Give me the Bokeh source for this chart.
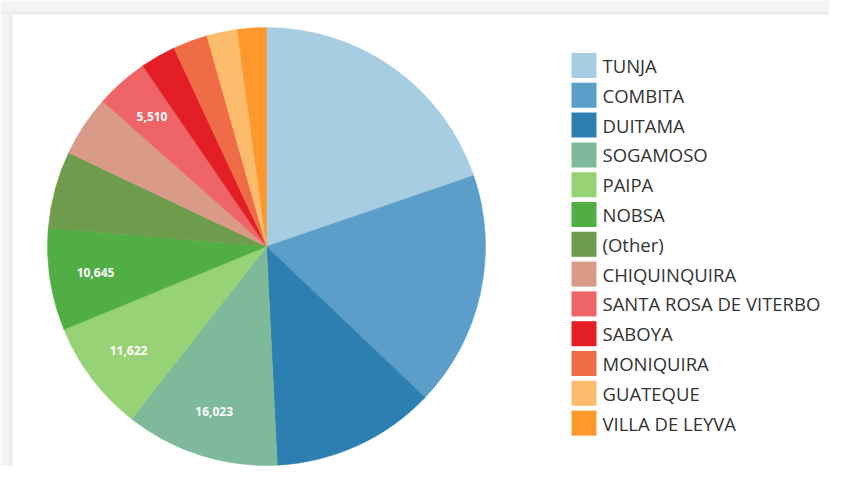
import numpy as np
import pandas as pd
from bokeh.plotting import figure
from bokeh.models import ColumnDataSource, Range1d, BoxAnnotation
from bokeh.core.properties import value
from bokeh.embed import file_html
from bokeh.resources import INLINE

# ---- data ----
categories = ["TUNJA", "COMBITA", "DUITAMA", "SOGAMOSO", "PAIPA", "NOBSA", "(Other)",
              "CHIQUINQUIRA", "SANTA ROSA DE VITERBO", "SABOYA", "MONIQUIRA",
              "GUATEQUE", "VILLA DE LEYVA"]
counts = [27870, 24500, 17090, 16023, 11622, 10645, 8036, 6350, 5510, 3685, 3606, 3175, 3018]
colors = ["#a6cde2", "#5a9ec9", "#2c7fb0", "#7eb99a", "#98d277", "#50ae45", "#6e9c4c",
          "#d99a88", "#ef6467", "#e31f25", "#ef6c47", "#fdbc6c", "#fe982c"]
show_value = [False, False, False, True, True, True, False, False, True, False, False, False, False]

# ---- layout (data units = page pixels, y measured upward from 482) ----
W, H = 829, 466
CX, CY, R = 266, 482 - 246, 219

df = pd.DataFrame({"cat": categories, "count": counts, "color": colors})
total = df["count"].sum()
cum_after = df["count"].cumsum() / total
cum_before = cum_after - df["count"] / total
df["start"] = np.pi / 2 - 2 * np.pi * cum_before
df["end"] = np.pi / 2 - 2 * np.pi * cum_after
mid = (df["start"] + df["end"]) / 2
df["lx"] = CX + 0.79 * R * np.cos(mid)
df["ly"] = CY + 0.79 * R * np.sin(mid)
df["label"] = [f"{c:,}" if s else "" for c, s in zip(counts, show_value)]
idx = np.arange(len(categories))
df["legx"] = 583.5
df["legy"] = 482 - (65 + 29.8 * idx)
df["legtx"] = 602

src = ColumnDataSource(df)

p = figure(width=W, height=H, x_range=Range1d(0, W), y_range=Range1d(482 - H, 482),
           x_axis_type=None, y_axis_type=None, output_backend="svg",
           toolbar_location=None, min_border=0)
p.grid.visible = False
p.outline_line_color = None
p.background_fill_color = "white"
p.border_fill_color = "white"

# faint window-shadow frame of the screenshot
p.add_layout(BoxAnnotation(left=0, right=W, bottom=469, top=482, fill_color="#f4f4f4",
                           fill_alpha=1, line_color=None, level="underlay"))
p.add_layout(BoxAnnotation(left=0, right=W, bottom=468, top=471, fill_color="#ebebeb",
                           fill_alpha=1, line_color=None, level="underlay"))
p.add_layout(BoxAnnotation(left=0, right=11, bottom=0, top=469, fill_color="#f4f4f4",
                           fill_alpha=1, line_color=None, level="underlay"))
p.add_layout(BoxAnnotation(left=9, right=12, bottom=0, top=468, fill_color="#ececec",
                           fill_alpha=1, line_color=None, level="underlay"))

p.wedge(x=CX, y=CY, radius=R, start_angle="start", end_angle="end", direction="clock",
        fill_color="color", line_color="color", line_width=0.5, source=src)

p.text(x="lx", y="ly", text="label", text_align="center", text_baseline="middle",
       text_font=value("Open Sans"), text_font_style="bold", text_font_size="12px",
       text_color="white", source=src)

p.rect(x="legx", y="legy", width=25, height=25, fill_color="color", line_color=None, source=src)
p.text(x="legtx", y="legy", text="cat", text_baseline="middle", text_align="left",
       text_font=value("Open Sans"), text_font_size="18.5px", text_color="#333333", source=src)

open("out.html", "w").write(file_html(p, INLINE))
